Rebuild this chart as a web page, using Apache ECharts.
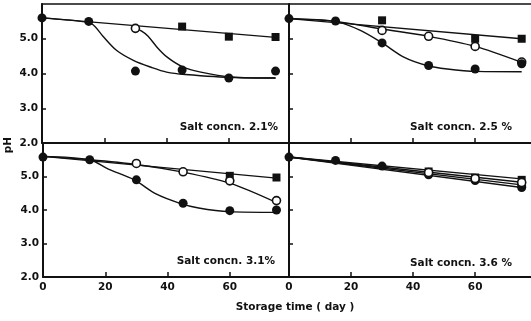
<!DOCTYPE html>
<html><head><meta charset="utf-8">
<script src="https://cdn.jsdelivr.net/npm/echarts@6/dist/echarts.min.js"></script>
<style>html,body{margin:0;padding:0;background:#fff}#c{width:531px;height:321px}</style>
</head><body><div id="c"></div>
<script>
// ---- tick labels ----
const xTickValues = [20, 40, 60];
const xLabelValues = [0, 20, 40, 60];
const yTickValues = [3, 4, 5];
const yLabelValues = [2, 3, 4, 5];
const panelTitles = ['Salt concn. 2.1%', 'Salt concn. 2.5 %', 'Salt concn. 3.1%', 'Salt concn. 3.6 %'];
const yAxisTitle = 'pH';
const xAxisTitle = 'Storage time ( day )';

// ---- Panel 1 : salt 2.1 % ----
const p1SquareLine = [[0, 5.6], [75, 5.04]];
const p1FillCurve = [[0, 5.6], [15, 5.47], [17, 5.35], [19.5, 5.08], [24, 4.66], [29.5, 4.37], [35, 4.18], [40, 4.04], [46, 3.97], [62, 3.88], [75, 3.87]];
const p1OpenCurve = [[30, 5.3], [32, 5.22], [34, 5.08], [37, 4.75], [40.2, 4.47], [45, 4.2], [51, 4.04], [61, 3.9], [75, 3.87]];
const p1Squares = [[45, 5.35], [60, 5.06], [75, 5.05]];
const p1Open = [[30, 5.3]];
const p1Filled = [[0, 5.6], [15, 5.5], [30, 4.07], [45, 4.1], [60, 3.87], [75, 4.07]];

// ---- Panel 2 : salt 2.5 % ----
const p2SquareLine = [[0, 5.58], [75, 5.0]];
const p2OpenLine = [[0, 5.58], [15, 5.5], [30, 5.28], [45, 5.07], [60, 4.78], [75, 4.32]];
const p2FillCurve = [[0, 5.58], [15, 5.5], [23, 5.24], [30, 4.88], [37, 4.47], [44.4, 4.23], [51, 4.13], [60.5, 4.06], [75, 4.05]];
const p2Squares = [[30, 5.53], [60, 5.0], [75, 5.0]];
const p2Open = [[30, 5.24], [45, 5.07], [60, 4.78], [75, 4.33]];
const p2Filled = [[0, 5.58], [15, 5.51], [30, 4.88], [45, 4.23], [60, 4.13], [75, 4.28]];

// ---- Panel 3 : salt 3.1 % ----
const p3SquareLine = [[0, 5.6], [75, 4.95]];
const p3OpenLine = [[0, 5.6], [15, 5.5], [30, 5.36], [45, 5.13], [60, 4.8], [75, 4.22]];
const p3FillCurve = [[0, 5.6], [15, 5.5], [21, 5.22], [29.3, 4.9], [36.3, 4.48], [44, 4.2], [50, 4.06], [60, 3.95], [75, 3.93]];
const p3Squares = [[60, 5.02], [75, 4.97]];
const p3Open = [[30, 5.39], [45, 5.14], [60, 4.87], [75, 4.28]];
const p3Filled = [[0, 5.58], [15, 5.5], [30, 4.9], [45, 4.2], [60, 3.98], [75, 4.0]];

// ---- Panel 4 : salt 3.6 % ----
const p4LineA = [[0, 5.58], [75, 4.93]];
const p4LineB = [[0, 5.58], [75, 4.83]];
const p4LineC = [[0, 5.58], [75, 4.75]];
const p4LineD = [[0, 5.58], [75, 4.67]];
const p4Squares = [[45, 5.15], [60, 4.97], [75, 4.9]];
const p4Open = [[45, 5.12], [60, 4.94], [75, 4.82]];
const p4Filled = [[0, 5.58], [15, 5.48], [30, 5.31], [45, 5.08], [60, 4.9], [75, 4.72]];
const p4Filled2 = [[45, 5.05], [60, 4.88], [75, 4.67]];

const INK = '#111';
const FONT = 'DejaVu Sans';

const grids = [
  {left: 42, top: 4, width: 246, height: 139},
  {left: 289, top: 4, width: 242, height: 139},
  {left: 43, top: 143, width: 245, height: 134},
  {left: 289, top: 143, width: 242, height: 134}
];
const xMax = [79, 78, 78.7, 78];

const xAxes = [];
const yAxes = [];
for (let i = 0; i < 4; i++) {
  const bottomRow = i >= 2;
  xAxes.push({
    type: 'value', gridIndex: i, min: 0, max: xMax[i], interval: 20,
    position: 'bottom',
    axisLine: {show: true, onZero: false, lineStyle: {color: INK, width: 2}},
    axisTick: {show: true, inside: true, length: 5, customValues: xTickValues, lineStyle: {color: INK, width: 1.5}},
    axisLabel: bottomRow ? {show: true, customValues: xLabelValues, margin: 5, color: INK, fontFamily: FONT, fontWeight: 'bold', fontSize: 10.5} : {show: false},
    splitLine: {show: false}
  });
  yAxes.push({
    type: 'value', gridIndex: i, min: 2, max: 6, interval: 1,
    axisLine: {show: true, onZero: false, lineStyle: {color: INK, width: 2}},
    axisTick: {show: true, inside: true, length: 4, customValues: yTickValues, lineStyle: {color: INK, width: 1.5}},
    axisLabel: (i % 2 === 0) ? {show: true, customValues: yLabelValues, margin: 4, color: INK, fontFamily: FONT, fontWeight: 'bold', fontSize: 10.5, formatter: v => v.toFixed(1)} : {show: false},
    splitLine: {show: false}
  });
}
// top border lines for upper panels
for (let i = 0; i < 2; i++) {
  xAxes.push({
    type: 'value', gridIndex: i, min: 0, max: xMax[i], position: 'top',
    axisLine: {show: true, onZero: false, lineStyle: {color: INK, width: 1.5}},
    axisTick: {show: false}, axisLabel: {show: false}, splitLine: {show: false}
  });
}

function lineS(i, data) {
  return {type: 'line', xAxisIndex: i, yAxisIndex: i, data: data, smooth: 0.3, symbol: 'none',
    lineStyle: {color: INK, width: 1.4}, silent: true, z: 2, animation: false};
}
function markS(i, data, kind) {
  const s = {type: 'scatter', xAxisIndex: i, yAxisIndex: i, data: data, silent: true, z: 3, animation: false};
  if (kind === 'square') {
    s.symbol = 'rect'; s.symbolSize = 8; s.itemStyle = {color: INK, opacity: 1};
  } else if (kind === 'open') {
    s.symbol = 'circle'; s.symbolSize = 8; s.itemStyle = {color: '#fff', borderColor: INK, borderWidth: 1.6, opacity: 1};
  } else {
    s.symbol = 'circle'; s.symbolSize = 9; s.itemStyle = {color: INK, opacity: 1};
  }
  return s;
}

const series = [
  lineS(0, p1SquareLine), lineS(0, p1FillCurve), lineS(0, p1OpenCurve),
  markS(0, p1Squares, 'square'), markS(0, p1Filled, 'filled'), markS(0, p1Open, 'open'),
  lineS(1, p2SquareLine), lineS(1, p2OpenLine), lineS(1, p2FillCurve),
  markS(1, p2Squares, 'square'), markS(1, p2Open, 'open'), markS(1, p2Filled, 'filled'),
  lineS(2, p3SquareLine), lineS(2, p3OpenLine), lineS(2, p3FillCurve),
  markS(2, p3Squares, 'square'), markS(2, p3Filled, 'filled'), markS(2, p3Open, 'open'),
  lineS(3, p4LineA), lineS(3, p4LineB), lineS(3, p4LineC), lineS(3, p4LineD),
  markS(3, p4Filled2, 'filled'), markS(3, p4Filled, 'filled'), markS(3, p4Squares, 'square'), markS(3, p4Open, 'open')
];

const textStyle = {fill: INK, fontFamily: FONT, fontWeight: 'bold', fontSize: 10.5};
const titlePos = [[278, 127], [512, 127], [275, 261], [512, 263]];
const graphic = panelTitles.map((t, i) => ({
  type: 'text', x: titlePos[i][0], y: titlePos[i][1],
  style: Object.assign({text: t, align: 'right', verticalAlign: 'middle'}, textStyle)
}));
graphic.push({type: 'text', x: 8, y: 145, rotation: Math.PI / 2,
  style: Object.assign({text: yAxisTitle, align: 'center', verticalAlign: 'middle'}, textStyle)});
graphic.push({type: 'text', x: 295, y: 307,
  style: Object.assign({text: xAxisTitle, align: 'center', verticalAlign: 'middle'}, textStyle)});

const chart = echarts.init(document.getElementById('c'), null, {renderer: 'canvas'});
chart.setOption({
  animation: false,
  backgroundColor: '#fff',
  grid: grids,
  xAxis: xAxes,
  yAxis: yAxes,
  series: series,
  graphic: graphic
});
</script>
</body></html>
